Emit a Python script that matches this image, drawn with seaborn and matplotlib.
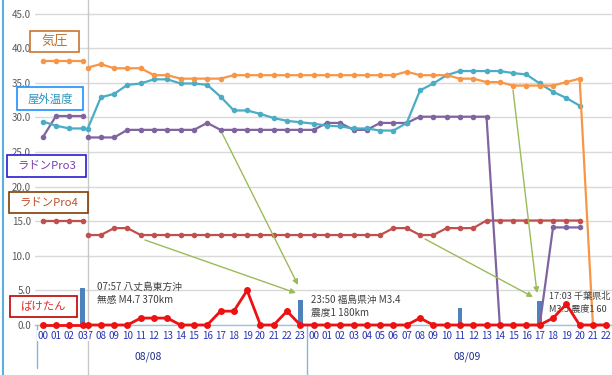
import numpy as np
import pandas as pd
import matplotlib
matplotlib.use("Agg")
import matplotlib.pyplot as plt
import matplotlib.transforms as mtrans
from matplotlib.patches import Rectangle
from matplotlib.lines import Line2D
import seaborn as sns

# ---------------- data ----------------
left_hours = ["00", "01", "02", "03"]
main_hours = ["07", "08", "09", "10", "11", "12", "13", "14", "15", "16", "17",
              "18", "19", "20", "21", "22", "23",
              "00", "01", "02", "03", "04", "05", "06", "07", "08", "09", "10",
              "11", "12", "13", "14", "15", "16", "17", "18", "19", "20", "21", "22"]
day_labels = ["08/08", "08/09"]

kiatsu_left = [38.2, 38.2, 38.2, 38.2]
kiatsu_main = [37.2, 37.7, 37.1, 37.1, 37.1, 36.1, 36.1, 35.6, 35.6, 35.6, 35.6,
               36.1, 36.1, 36.1, 36.1, 36.1, 36.1,
               36.1, 36.1, 36.1, 36.1, 36.1, 36.1, 36.1, 36.6, 36.1, 36.1, 36.1,
               35.6, 35.6, 35.1, 35.1, 34.6, 34.6, 34.6, 34.6, 35.1, 35.6, 0.0, 0.0]

temp_left = [29.4, 28.8, 28.4, 28.4]
temp_main = [28.3, 32.9, 33.4, 34.7, 34.9, 35.5, 35.5, 34.9, 34.9, 34.7, 33.0,
             31.0, 31.0, 30.5, 29.9, 29.5, 29.3,
             29.1, 28.8, 28.7, 28.4, 28.4, 28.1, 28.1, 29.2, 33.9, 34.9, 36.1,
             36.7, 36.7, 36.7, 36.7, 36.4, 36.2, 34.9, 33.7, 32.8, 31.7, np.nan, np.nan]

pro3_left = [27.1, 30.2, 30.2, 30.2]
pro3_main = [27.1, 27.1, 27.1, 28.2, 28.2, 28.2, 28.2, 28.2, 28.2, 29.2, 28.2,
             28.2, 28.2, 28.2, 28.2, 28.2, 28.2,
             28.2, 29.2, 29.2, 28.2, 28.2, 29.2, 29.2, 29.2, 30.1, 30.1, 30.1,
             30.1, 30.1, 30.1, 0.0, 0.0, 0.0, 0.0, 14.1, 14.1, 14.1, np.nan, np.nan]

pro4_left = [15.1, 15.1, 15.1, 15.1]
pro4_main = [13.0, 13.0, 14.0, 14.0, 13.0, 13.0, 13.0, 13.0, 13.0, 13.0, 13.0,
             13.0, 13.0, 13.0, 13.0, 13.0, 13.0,
             13.0, 13.0, 13.0, 13.0, 13.0, 13.0, 14.0, 14.0, 13.0, 13.0, 14.0,
             14.0, 14.0, 15.1, 15.1, 15.1, 15.1, 15.1, 15.1, 15.1, 15.1, np.nan, np.nan]

bake_left = [0, 0, 0, 0]
bake_main = [0, 0, 0, 0, 1, 1, 1, 0, 0, 0, 2, 2, 5, 0, 0, 2, 0,
             0, 0, 0, 0, 0, 0, 0, 0, 1, 0, 0, 0, 0, 0, 0, 0, 0, 0, 1, 3, 0, 0, 0]

# earthquakes: (segment, index in segment) and bar height
quake_segment = ["left", "main", "main", "main"]
quake_index = [3, 16, 28, 34]
quake_value = [5.3, 3.6, 2.5, 3.5]
quake_text = [("07:57 八丈島東方沖", "無感 M4.7 370km"),
              ("23:50 福島県沖 M3.4", "震度1 180km"),
              ("17:03 千葉県北", "M3.5 震度1 60")]

series_names = ["気圧", "屋外温度", "ラドンPro3", "ラドンPro4", "ばけたん"]
series_left = [kiatsu_left, temp_left, pro3_left, pro4_left, bake_left]
series_main = [kiatsu_main, temp_main, pro3_main, pro4_main, bake_main]

# ---------------- layout constants ----------------
W, H = 612, 375
PX_PER_X = 13.3
X0_PX = 42.7          # pixel of left "00"
Y0_PX = 325.0         # pixel of value 0
PX_PER_Y = 6.92
MAIN_START = 3.37     # position of first main-chart hour (07)

def px_x(p):
    return (p - X0_PX) / PX_PER_X

def px_y(p):
    return (Y0_PX - p) / PX_PER_Y

left_x = np.arange(len(left_hours), dtype=float)
main_x = MAIN_START + np.arange(len(main_hours), dtype=float)

rows = []
for name, lv, mv in zip(series_names, series_left, series_main):
    for x, v in zip(left_x, lv):
        rows.append((name, "left", x, v))
    for x, v in zip(main_x, mv):
        rows.append((name, "main", x, v))
df = pd.DataFrame(rows, columns=["series", "segment", "x", "value"])

quake_x = [left_x[i] if s == "left" else main_x[i] for s, i in zip(quake_segment, quake_index)]

# ---------------- style ----------------
sns.set_theme(style="white")
plt.rcParams["font.family"] = ["Noto Sans CJK JP", "DejaVu Sans"]

colors = {"気圧": "#f79646", "屋外温度": "#4bacc6", "ラドンPro3": "#8064a2",
          "ラドンPro4": "#c0504d", "ばけたん": "#ee1111"}
zorders = {"気圧": 3.3, "屋外温度": 3.2, "ラドンPro3": 3.1, "ラドンPro4": 3.0, "ばけたん": 5}

fig = plt.figure(figsize=(W / 100, H / 100), dpi=100)
ax = fig.add_axes([35 / W, (H - Y0_PX) / H, 1 - 35 / W, Y0_PX / H])
ax.set_xlim(px_x(35), px_x(W))
ax.set_ylim(0, Y0_PX / PX_PER_Y)

# gridlines
ax.set_yticks(np.arange(0, 50, 5))
ax.set_yticklabels([f"{v:.1f}" for v in np.arange(0, 50, 5)])
ax.yaxis.grid(True, color="#d9d9d9", linewidth=1)
ax.xaxis.grid(False)
for s in ["left", "right", "top"]:
    ax.spines[s].set_visible(False)
ax.spines["bottom"].set_color("#9dc3e6")
ax.spines["bottom"].set_linewidth(1)
ax.tick_params(axis="y", length=0, pad=3, labelcolor="#595959", labelsize=7)

# bars
ax.bar(quake_x, quake_value, width=0.34, color="#4f81bd", linewidth=0, zorder=2)

# lines
for name in series_names:
    sub = df[df.series == name].dropna()
    is_bake = name == "ばけたん"
    sns.lineplot(data=sub, x="x", y="value", units="segment", estimator=None,
                 color=colors[name], marker="o",
                 markersize=5.0 if is_bake else 4.0, markeredgewidth=0,
                 linewidth=2.0 if is_bake else 1.6, ax=ax, legend=False,
                 zorder=zorders[name], clip_on=False)
ax.set_xlabel("")
ax.set_ylabel("")

# x tick labels
ax.set_xticks(main_x)
ax.set_xticklabels(main_hours)
ax.tick_params(axis="x", length=0, pad=4, labelcolor="#2a35b0", labelsize=7)
tick_trans = mtrans.offset_copy(ax.get_xaxis_transform(), fig=fig, y=-4, units="points")
for x, lab in zip(left_x, left_hours):
    ax.text(x, 0, lab, transform=tick_trans, ha="center", va="top", fontsize=7,
            color="#2a35b0", zorder=6, clip_on=False,
            bbox=dict(boxstyle="square,pad=0.05", facecolor="white", edgecolor="none"))

# day labels
xt = ax.get_xaxis_transform()
ax.text(px_x(148), -(357 - Y0_PX) / Y0_PX, day_labels[0], transform=xt, ha="center",
        va="center", fontsize=7.5, color="#1f2f8f", clip_on=False)
ax.text(px_x(467), -(357 - Y0_PX) / Y0_PX, day_labels[1], transform=xt, ha="center",
        va="center", fontsize=7.5, color="#1f2f8f", clip_on=False)

# separators
ax.plot([px_x(37)] * 2, [0, -(368 - Y0_PX) / Y0_PX], transform=xt, color="#8ab4d8",
        lw=1, clip_on=False)
sep2 = (main_x[16] + main_x[17]) / 2
ax.plot([sep2] * 2, [0, -(375 - Y0_PX) / Y0_PX], transform=xt, color="#8ab4d8",
        lw=1, clip_on=False)
ax.plot([px_x(88)] * 2, [-(375 - Y0_PX) / Y0_PX, 1], transform=xt, color="#c8c8c8",
        lw=1, clip_on=False, zorder=1)
fig.add_artist(Line2D([3 / W, 3 / W], [0, 1], transform=fig.transFigure,
                      color="#5aaee0", lw=1.5))

# annotations text
ann_pos = [(97, 286.5, 300.0, 7), (311, 300.0, 312.5, 7), (549, 296.5, 309.0, 6.6)]
for (l1, l2), (xp, y1, y2, fs) in zip(quake_text, ann_pos):
    ax.text(px_x(xp), px_y(y1), l1, ha="left", va="center", fontsize=fs,
            color="#404040", zorder=4, clip_on=False)
    ax.text(px_x(xp), px_y(y2), l2, ha="left", va="center", fontsize=fs,
            color="#404040", zorder=4, clip_on=False)

# arrows
arrows = [((222, 133), (298, 285)), ((145, 240), (296, 293)),
          ((513, 90), (537, 293)), ((425, 239), (533, 297))]
for (sx, sy), (ex, ey) in arrows:
    ax.annotate("", xy=(px_x(ex), px_y(ey)), xytext=(px_x(sx), px_y(sy)),
                arrowprops=dict(arrowstyle="-|>", color="#9bbb59", lw=1,
                                mutation_scale=8, shrinkA=0, shrinkB=0), zorder=4)

# legend-like boxes
boxes = [("気圧", 30, 31, 79, 52, "#c87533", "#b87333", 9.5),
         ("屋外温度", 17, 87, 83, 110, "#1e90ff", "#2b95c0", 8.2),
         ("ラドンPro3", 7, 155, 86, 177, "#2a1ccf", "#7a3fb0", 8.2),
         ("ラドンPro4", 9, 192, 88, 213, "#7f3f00", "#c0502a", 8.2),
         ("ばけたん", 10, 296, 77, 317, "#c00000", "#e03030", 8.2)]
for text, x0, y0, x1, y1, ec, tc, fs in boxes:
    fig.add_artist(Rectangle((x0 / W, 1 - y1 / H), (x1 - x0) / W, (y1 - y0) / H,
                             transform=fig.transFigure, facecolor="white",
                             edgecolor=ec, lw=1.2, zorder=10))
    t = fig.text((x0 + x1) / 2 / W, 1 - (y0 + y1) / 2 / H, text, ha="center",
                 va="center", fontsize=fs, color=tc)
    t.set_zorder(11)

fig.savefig("out.png", dpi=100)
